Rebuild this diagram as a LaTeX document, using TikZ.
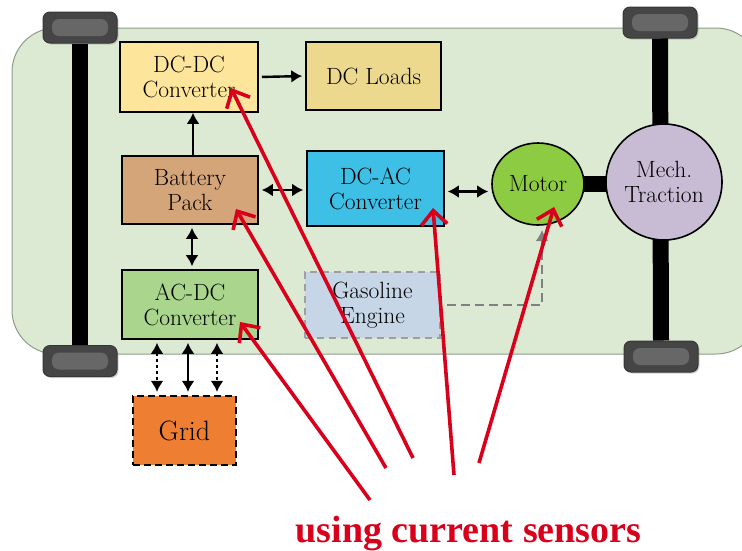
\documentclass[tikz,border=0pt]{standalone}
\usepackage{fontspec}
\usepackage{tikz}
\usetikzlibrary{arrows.meta,shapes.geometric,shadows}
\newfontfamily\notefont{Liberation Serif}

\definecolor{carbody}{HTML}{DDEAD3}
\definecolor{carline}{HTML}{8E9C8B}
\definecolor{tyre}{HTML}{454545}
\definecolor{tyrein}{HTML}{676767}
\definecolor{dcdcc}{HTML}{FDE59B}
\definecolor{loadc}{HTML}{ECD98E}
\definecolor{battc}{HTML}{D5A57A}
\definecolor{dcacc}{HTML}{3EBFE6}
\definecolor{acdcc}{HTML}{A9D68C}
\definecolor{gasc}{HTML}{C6D6E6}
\definecolor{gridc}{HTML}{EE7E32}
\definecolor{motorc}{HTML}{8DCB43}
\definecolor{mechc}{HTML}{C7BCD4}
\definecolor{sensred}{HTML}{D9001B}

\begin{document}
\begin{tikzpicture}[x=1pt,y=-1pt,
  box/.style={draw=black,line width=1.6pt,minimum width=136pt,minimum height=68pt,
    inner sep=0pt,align=center,font=\fontsize{23.5}{25}\selectfont},
  wheel/.style={rounded corners=7pt,fill=tyre,draw=tyre!80!black,line width=1pt,
    minimum width=74pt,minimum height=31pt,inner sep=0pt,
    drop shadow={opacity=0.35,shadow xshift=1.5pt,shadow yshift=-1.5pt},
    path picture={\fill[tyrein] ([shift={(9pt,7pt)}]path picture bounding box.south west)
      rectangle ([shift={(-9pt,-7pt)}]path picture bounding box.north east);}},
  axle/.style={line width=16pt},
  flow/.style={line width=2.4pt,shorten <=3pt,shorten >=3pt},
  dotflow/.style={dash pattern=on 3pt off 3pt},
  sense/.style={draw=sensred,line width=3.6pt,-{Straight Barb[length=14pt,width=26pt]}},
  >={Latex[length=11pt,width=13pt]}]
  \useasboundingbox (0,0) rectangle (742,550);

  % car body
  \draw[fill=carbody,draw=carline,line width=1pt,rounded corners=44pt] (12,28) rectangle (760,354);

  % wheels and axles
  \node[wheel] (wtl) at (80,27.5) {};
  \node[wheel] (wbl) at (80,361) {};
  \node[wheel] (wtr) at (660,22.5) {};
  \node[wheel] (wbr) at (661,356.5) {};
  \draw[axle] (wtl.south) -- (wbl.north);
  \draw[axle] (wtr.south) -- (wbr.north);

  % blocks
  \node[box,fill=dcdcc,minimum width=138pt,minimum height=70pt] (dcdc) at (189,77) {DC-DC\\Converter};
  \node[box,fill=loadc,minimum width=135pt] (loads) at (373.5,76) {DC Loads};
  \node[box,fill=battc] (batt) at (190,190) {Battery\\Pack};
  \node[box,fill=dcacc,minimum width=137pt,minimum height=75pt] (dcac) at (375.5,188.5) {DC-AC\\Converter};
  \node[box,fill=acdcc,minimum height=69pt] (acdc) at (190,304.5) {AC-DC\\Converter};
  \node[box,fill=gasc,draw=gray!75,dash pattern=on 7pt off 5pt,minimum width=135pt,minimum height=66pt] (gas) at (372.5,305) {Gasoline\\Engine};
  \node[box,fill=gridc,line width=2.2pt,dash pattern=on 7pt off 4pt,minimum width=103pt,minimum height=69pt,
    font=\fontsize{28}{30}\selectfont] (grid) at (184.5,430.5) {Grid};
  \node[ellipse,draw,line width=1.6pt,fill=motorc,minimum width=92pt,minimum height=82pt,inner sep=0pt,
    font=\fontsize{23.5}{25}\selectfont] (motor) at (538,184) {Motor};
  \node[circle,draw,line width=1.6pt,fill=mechc,minimum size=116pt,inner sep=0pt,align=center,
    font=\fontsize{23.5}{25}\selectfont] (mech) at (664,182) {Mech.\\Traction};
  \draw[line width=16pt,shorten <=-1pt,shorten >=-1pt] (motor.east) -- (motor.east -| mech.west);

  % power flow
  \draw[flow,->] (dcdc.east) -- (loads.west);
  \draw[flow,->,shorten <=0pt,shorten >=0pt] ([xshift=3pt]batt.north) -- ([xshift=3pt]batt.north |- dcdc.south);
  \draw[flow,<->] (batt.east) -- (batt.east -| dcac.west);
  \draw[flow,<->] ([xshift=2pt]batt.south) -- ([xshift=2pt]batt.south |- acdc.north);
  \draw[flow,<->] ([yshift=-3pt]dcac.east) -- ([yshift=-3pt]dcac.east -| motor.west);
  \foreach \dx/\pat in {-33/dotflow,-2/solid,27/dotflow}
    \draw[flow,<->,\pat] ([xshift=\dx pt]acdc.south) -- ([xshift=\dx pt]acdc.south |- grid.north);
  \coordinate (gtip) at (542,230);
  \draw[gray,line width=2.6pt,dash pattern=on 9pt off 5pt,shorten <=6pt,-{Latex[length=11pt,width=13pt]}]
    (gas.east) -| (gtip);

  % current sensors
  \coordinate (t1) at (231,88);
  \coordinate (t2) at (236,209);
  \coordinate (t3) at (240,322);
  \coordinate (t4) at (433,208);
  \coordinate (t5) at (554,207);
  \coordinate (b1) at (413,458);
  \coordinate (b2) at (386,468);
  \coordinate (b3) at (370,500);
  \coordinate (b4) at (454,475);
  \coordinate (b5) at (479,463);
  \foreach \i in {1,...,5}
    \draw[sense] (b\i) -- (t\i);
  \node[anchor=base,text=sensred,font=\notefont\bfseries\fontsize{38}{40}\selectfont,inner sep=0pt] (note)
    at (468.5,542) {using current sensors};
\end{tikzpicture}
\end{document}
